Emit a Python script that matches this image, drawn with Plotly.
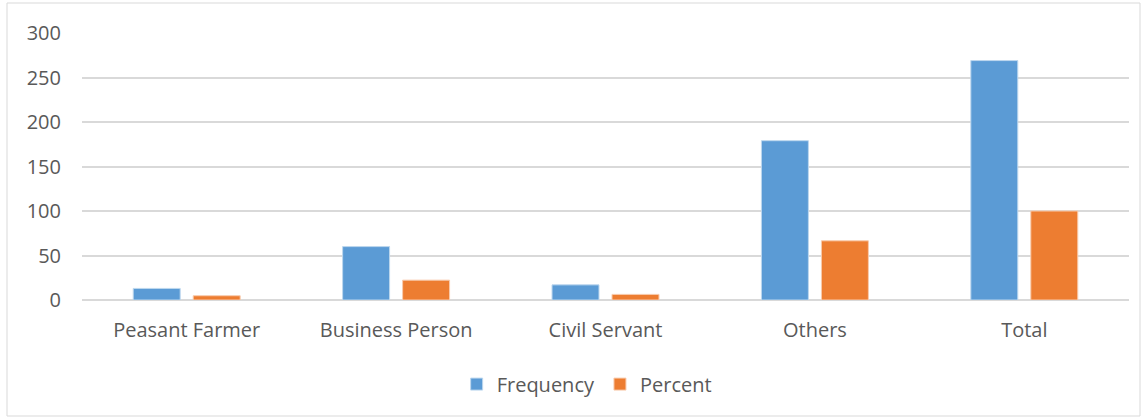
import plotly.graph_objects as go

categories = ["Peasant Farmer", "Business Person", "Civil Servant", "Others", "Total"]
frequency = [13, 60, 17, 179, 269]
percent = [4.8, 22.3, 6.3, 66.5, 100]
y_ticks = [0, 50, 100, 150, 200, 250, 300]

W, H = 1145, 419
L, R, T, B = 82, 16, 33, 119
pw, ph = W - L - R, H - T - B

font = dict(family="Open Sans, Noto Sans, sans-serif", size=20, color="#595959")

fig = go.Figure()
fig.add_trace(go.Bar(name="Frequency", x=categories, y=frequency,
                     marker=dict(color="#5B9BD5", line=dict(color="#BDD7EE", width=1))))
fig.add_trace(go.Bar(name="Percent", x=categories, y=percent,
                     marker=dict(color="#ED7D31", line=dict(color="#F8CBAD", width=1))))

# light outer frame around the whole chart
fig.add_shape(type="rect", xref="paper", yref="paper",
              x0=(7 - L) / pw, x1=(1140 - L) / pw,
              y0=(H - B - 416) / ph, y1=(H - B - 3) / ph,
              line=dict(color="#D9D9D9", width=1), fillcolor="rgba(0,0,0,0)")

fig.update_layout(
    width=W, height=H,
    margin=dict(l=L, r=R, t=T, b=B),
    paper_bgcolor="white", plot_bgcolor="white",
    font=font,
    barmode="group", bargap=0.427, bargroupgap=0.217,
    showlegend=True,
    legend=dict(orientation="h", x=0.482, xanchor="center", y=-0.315, yanchor="middle",
                font=font, itemwidth=30, traceorder="normal"),
    xaxis=dict(showgrid=False, showline=False, ticks="", ticklabelstandoff=16),
    yaxis=dict(range=[0, 300], tickvals=y_ticks, showgrid=True, gridcolor="#D9D9D9",
               gridwidth=1.5, zeroline=True, zerolinecolor="#D9D9D9", zerolinewidth=1.5,
               showline=False, ticks="", ticklabelstandoff=20),
)

fig.write_html("out.html")
